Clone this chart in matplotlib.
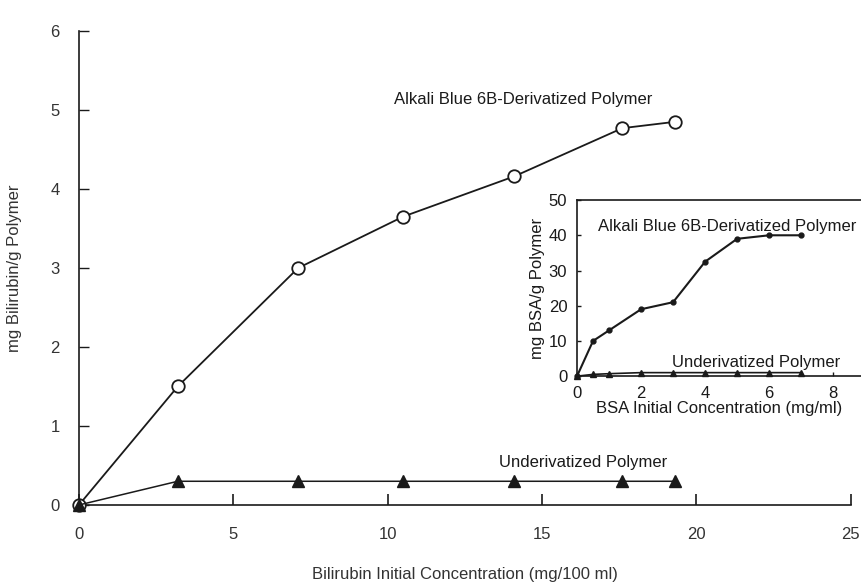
import matplotlib.pyplot as plt

plt.rcParams['font.family'] = ['Liberation Sans', 'DejaVu Sans']

# main plot: bilirubin binding
bili_x_blue = [0, 3.2, 7.1, 10.5, 14.1, 17.6, 19.3]
bili_y_blue = [0, 1.5, 3.0, 3.65, 4.16, 4.77, 4.85]
bili_x_under = [0, 3.2, 7.1, 10.5, 14.1, 17.6, 19.3]
bili_y_under = [0, 0.3, 0.3, 0.3, 0.3, 0.3, 0.3]

# inset: BSA binding
bsa_x_blue = [0, 0.5, 1, 2, 3, 4, 5, 6, 7]
bsa_y_blue = [0, 10, 13, 19, 21, 32.5, 39, 40, 40]
bsa_x_under = [0, 0.5, 1, 2, 3, 4, 5, 6, 7]
bsa_y_under = [0, 0.5, 0.7, 1, 1, 1, 1, 1, 1]

ink = '#1a1a1a'

fig = plt.figure(figsize=(8.62, 5.85), dpi=100)
ax = fig.add_axes([0.0916, 0.1368, 0.8954, 0.8102])

ax.plot(bili_x_blue, bili_y_blue, color=ink, lw=1.3, marker='o', ms=9,
        mfc='white', mec=ink, mew=1.3, zorder=3, clip_on=False)
ax.plot(bili_x_under, bili_y_under, color=ink, lw=1.1, marker='^', ms=9,
        mfc=ink, mec=ink, zorder=4, clip_on=False)

ax.set_xlim(0, 25)
ax.set_ylim(0, 6)
ax.set_xticks([0, 5, 10, 15, 20, 25])
ax.set_yticks([0, 1, 2, 3, 4, 5, 6])
ax.spines['top'].set_visible(False)
ax.spines['right'].set_visible(False)
for s in ['left', 'bottom']:
    ax.spines[s].set_linewidth(1.2)
    ax.spines[s].set_color(ink)
ax.tick_params(axis='x', direction='in', length=8, width=1.2, pad=16,
               labelsize=12, colors=ink)
ax.tick_params(axis='y', direction='in', length=7, width=1.0, pad=14,
               labelsize=12, colors=ink)
for lab in ax.get_xticklabels() + ax.get_yticklabels():
    lab.set_color('#333333')
ax.set_xlabel('Bilirubin Initial Concentration (mg/100 ml)', fontsize=12,
              color='#333333', labelpad=18)
ax.set_ylabel('mg Bilirubin/g Polymer', fontsize=12, color='#333333',
              labelpad=20)

ax.text(10.2, 5.13, 'Alkali Blue 6B-Derivatized Polymer', fontsize=12,
        color=ink, va='center')
ax.text(13.6, 0.54, 'Underivatized Polymer', fontsize=12, color=ink,
        va='center')

# inset
ins = fig.add_axes([0.6694, 0.357, 0.3306, 0.301])
ins.plot(bsa_x_blue, bsa_y_blue, color=ink, lw=1.5, marker='o', ms=3.5,
         mfc=ink, mec=ink, zorder=3, clip_on=False)
ins.plot(bsa_x_under, bsa_y_under, color=ink, lw=1.2, marker='^', ms=5,
         mfc=ink, mec=ink, zorder=3, clip_on=False)
ins.set_xlim(0, 8.9)
ins.set_ylim(0, 50)
ins.set_xticks([0, 2, 4, 6, 8])
ins.set_yticks([0, 10, 20, 30, 40, 50])
ins.spines['right'].set_visible(False)
for s in ['left', 'bottom', 'top']:
    ins.spines[s].set_linewidth(1.2)
    ins.spines[s].set_color(ink)
ins.tick_params(axis='x', direction='in', length=3, width=1.0, pad=7,
                labelsize=12, colors=ink)
ins.tick_params(axis='y', direction='in', length=3, width=1.0, pad=7,
                labelsize=12, colors=ink)
ins.set_xlabel('BSA Initial Concentration (mg/ml)', fontsize=12, color=ink,
               labelpad=0)
ins.set_ylabel('mg BSA/g Polymer', fontsize=12, color=ink, labelpad=3)
ins.text(0.65, 42.6, 'Alkali Blue 6B-Derivatized Polymer', fontsize=12,
         color=ink, va='center')
ins.text(2.96, 3.9, 'Underivatized Polymer', fontsize=12, color=ink,
         va='center')

fig.savefig('out.png', dpi=100)
